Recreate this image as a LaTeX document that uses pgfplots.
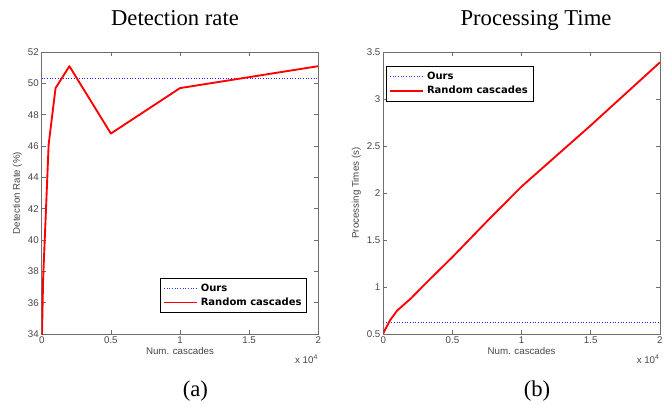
\documentclass[border=0pt]{standalone}
\usepackage{fontspec}
\setmainfont{Liberation Serif}
\newfontfamily\arialf{Liberation Sans}
\newfontfamily\legf{DejaVu Sans}
\usepackage{pgfplots}
\pgfplotsset{compat=1.18}
\definecolor{framegray}{RGB}{110,110,110}
\definecolor{labgray}{RGB}{70,70,70}
\definecolor{oursblue}{RGB}{40,40,255}
\pgfplotsset{
  mlab/.style={
    scale only axis, width=207.4pt, height=211.5pt,
    anchor=south west,
    axis line style={framegray, line width=0.5pt},
    every tick/.style={framegray, line width=0.5pt},
    major tick length=3pt,
    tick align=inside,
    tick label style={font=\fontsize{7.3}{8}\arialf, text=labgray},
    label style={font=\fontsize{7.3}{8}\arialf, text=labgray},
    /pgf/number format/assume math mode=true,
    xmin=0, xmax=20000,
    xtick={0,5000,10000,15000,20000},
    xticklabels={0,0.5,1,1.5,2},
    scaled x ticks=false,
    xticklabel style={inner sep=1pt, yshift=-1pt},
    yticklabel style={inner sep=1pt, xshift=-1pt},
    xlabel={Num. cascades},
    xlabel style={yshift=2pt},
    legend cell align=left,
    legend image code/.code={\draw[#1] (0pt,0pt) -- (25pt,0pt);},
    legend style={draw=black, line width=0.6pt, fill=white,
      font=\fontsize{7.5}{9}\legf\bfseries, inner xsep=2pt, inner ysep=2pt,
      row sep=-0.5pt},
    clip=true,
  },
  ours/.style={oursblue, line width=0.6pt, dash pattern=on 0.75pt off 1.25pt},
  rnd/.style={red, line width=1.4pt, line join=round},
}
\begin{document}
\begin{tikzpicture}
\path[use as bounding box] (0,0) rectangle (502.5pt,303.75pt);
\node[anchor=base, font=\fontsize{17}{20}\selectfont] at (131.25pt,285pt) {Detection rate};
\node[anchor=base, font=\fontsize{17}{20}\selectfont] at (402pt,285pt) {Processing Time};
\node[anchor=base, font=\fontsize{17}{20}\selectfont] at (146.5pt,6.75pt) {(a)};
\node[anchor=base, font=\fontsize{17}{20}\selectfont] at (402.75pt,6.75pt) {(b)};
\begin{axis}[mlab, name=axa, at={(31.3pt,53.2pt)},
  ymin=34, ymax=52, ytick={34,36,...,52},
  ylabel={Detection Rate (\%)},
  legend style={at={(0.96,0.0745)}, anchor=south east}]
\addplot[ours] coordinates {(0,50.35) (20000,50.35)};
\addlegendentry{Ours}
\addplot[rnd] coordinates {(10,33.6) (100,37.5) (500,46.1) (1000,49.7) (2000,51.1) (5000,46.8) (10000,49.7) (20000,51.1)};
\addlegendentry{Random cascades}
\end{axis}
\begin{axis}[mlab, name=axb, at={(287.5pt,53.2pt)},
  ymin=0.5, ymax=3.5, ytick={0.5,1,...,3.5},
  yticklabels={0.5,1,1.5,2,2.5,3,3.5},
  ylabel={Processing Times (s)},
  legend style={at={(0.01,0.949)}, anchor=north west}]
\addplot[ours] coordinates {(0,0.62) (20000,0.62)};
\addlegendentry{Ours}
\addplot[rnd] coordinates {(10,0.51) (100,0.54) (500,0.65) (1000,0.75) (2000,0.88) (3000,1.03) (5000,1.32) (7500,1.70) (10000,2.07) (15000,2.72) (20000,3.39)};
\addlegendentry{Random cascades}
\end{axis}
\node[anchor=north east, font=\fontsize{7.3}{8}\arialf, text=labgray, inner sep=0pt] at ([yshift=-15pt]axa.south east) {x 10\textsuperscript{4}};
\node[anchor=north east, font=\fontsize{7.3}{8}\arialf, text=labgray, inner sep=0pt] at ([yshift=-15pt]axb.south east) {x 10\textsuperscript{4}};
\end{tikzpicture}
\end{document}
